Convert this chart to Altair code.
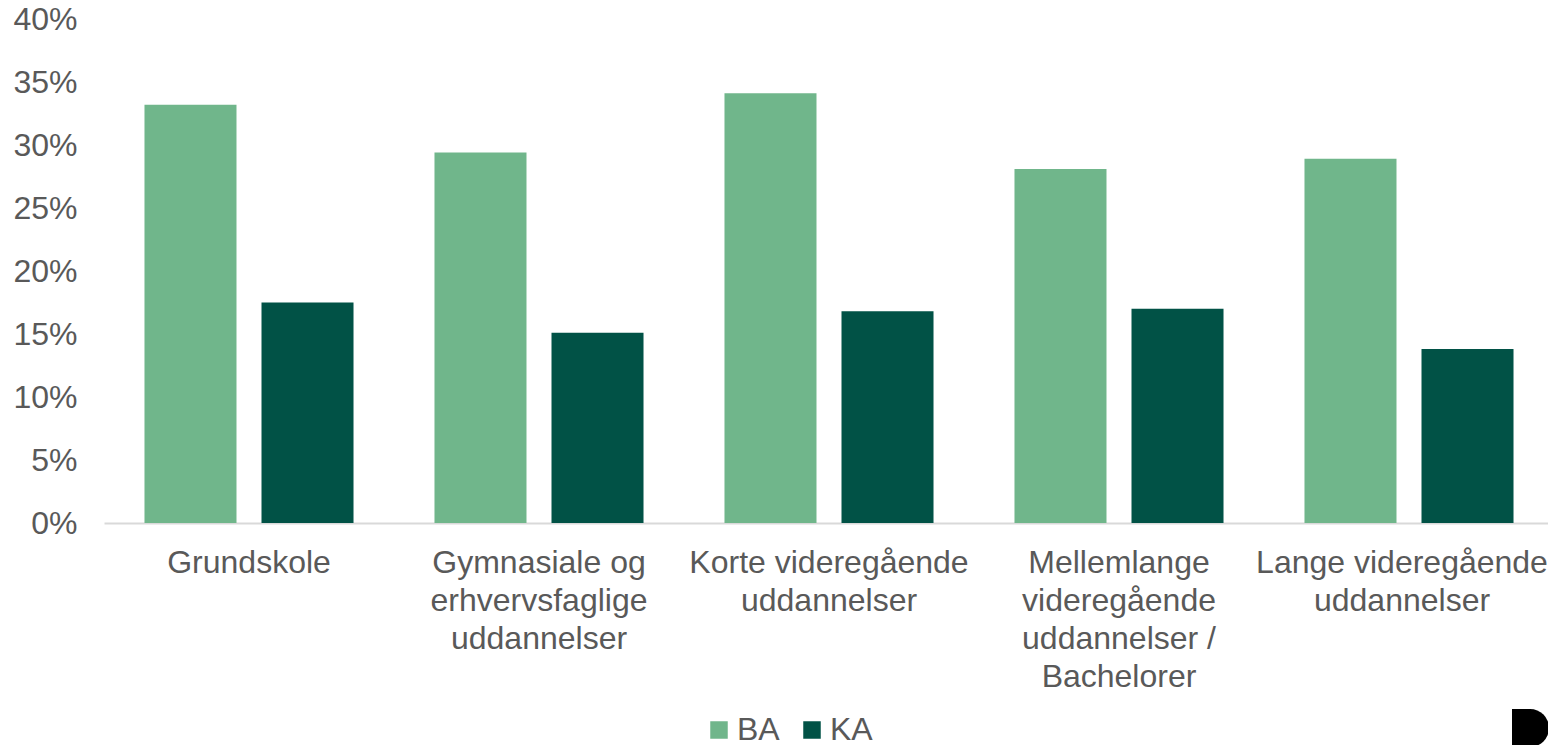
import altair as alt
import pandas as pd

categories = [
    "Grundskole",
    "Gymnasiale og|erhvervsfaglige|uddannelser",
    "Korte videregående|uddannelser",
    "Mellemlange|videregående|uddannelser /|Bachelorer",
    "Lange videregående|uddannelser",
]
series = ["BA", "KA"]
ba_values = [0.332, 0.294, 0.341, 0.281, 0.289]
ka_values = [0.175, 0.151, 0.168, 0.170, 0.138]
y_ticks = [0, 0.05, 0.10, 0.15, 0.20, 0.25, 0.30, 0.35, 0.40]
colors = ["#70B68B", "#015246"]

rows = []
for c, b, k in zip(categories, ba_values, ka_values):
    rows.append({"cat": c, "series": "BA", "value": b})
    rows.append({"cat": c, "series": "KA", "value": k})
df = pd.DataFrame(rows)

FONT = "Liberation Sans"
TXT = "#595959"

bars = alt.Chart(df).mark_bar().encode(
    x=alt.X(
        "cat:N",
        sort=categories,
        scale=alt.Scale(paddingInner=0, paddingOuter=0),
        axis=alt.Axis(
            title=None,
            labelAngle=0,
            labelExpr="split(datum.label, '|')",
            labelFont=FONT,
            labelFontSize=32,
            labelColor=TXT,
            labelPadding=24,
            labelLineHeight=38,
            labelLimit=500,
            labelOverlap=False,
            labelBound=False,
            labelOffset={
                "condition": {
                    "test": "datum.value == 'Lange videregående|uddannelser'",
                    "value": -7,
                },
                "value": 0,
            },
            domainColor="#D9D9D9",
            domainWidth=2,
            ticks=False,
        ),
    ),
    xOffset=alt.XOffset(
        "series:N",
        sort=series,
        scale=alt.Scale(paddingInner=0.2137, paddingOuter=0.346),
    ),
    y=alt.Y(
        "value:Q",
        scale=alt.Scale(domain=[0, 0.4], nice=False),
        axis=alt.Axis(
            title=None,
            format=".0%",
            values=y_ticks,
            grid=False,
            domain=False,
            ticks=False,
            labelFont=FONT,
            labelFontSize=32,
            labelColor=TXT,
            labelPadding=27,
        ),
    ),
    color=alt.Color(
        "series:N",
        sort=series,
        scale=alt.Scale(domain=series, range=colors),
        legend=alt.Legend(
            title=None,
            orient="none",
            direction="horizontal",
            legendX=599,
            legendY=695,
            padding=0,
            symbolType="square",
            symbolSize=306,
            symbolStrokeWidth=0,
            labelFont=FONT,
            labelFontSize=32,
            labelColor=TXT,
            labelOffset=2,
            columnPadding=16,
        ),
    ),
)

logo_df = pd.DataFrame({"k": [0]})
logo_rect = alt.Chart(logo_df).mark_rect(color="black").encode(
    x=alt.value(1408), x2=alt.value(1427), y=alt.value(690), y2=alt.value(728)
)
logo_arc = alt.Chart(logo_df).mark_arc(
    color="black", radius=19, theta=0, theta2=3.14159
).encode(x=alt.value(1426), y=alt.value(709))

chart = (
    alt.layer(bars, logo_rect, logo_arc)
    .properties(
        width=1450,
        height=504,
        padding={"left": 96, "top": 11, "right": -6, "bottom": 222},
        autosize=alt.AutoSizeParams(type="none"),
        background="white",
    )
    .configure_view(strokeWidth=0, stroke="transparent")
)

chart.save("out.html", embed_options={"renderer": "svg", "actions": False})
